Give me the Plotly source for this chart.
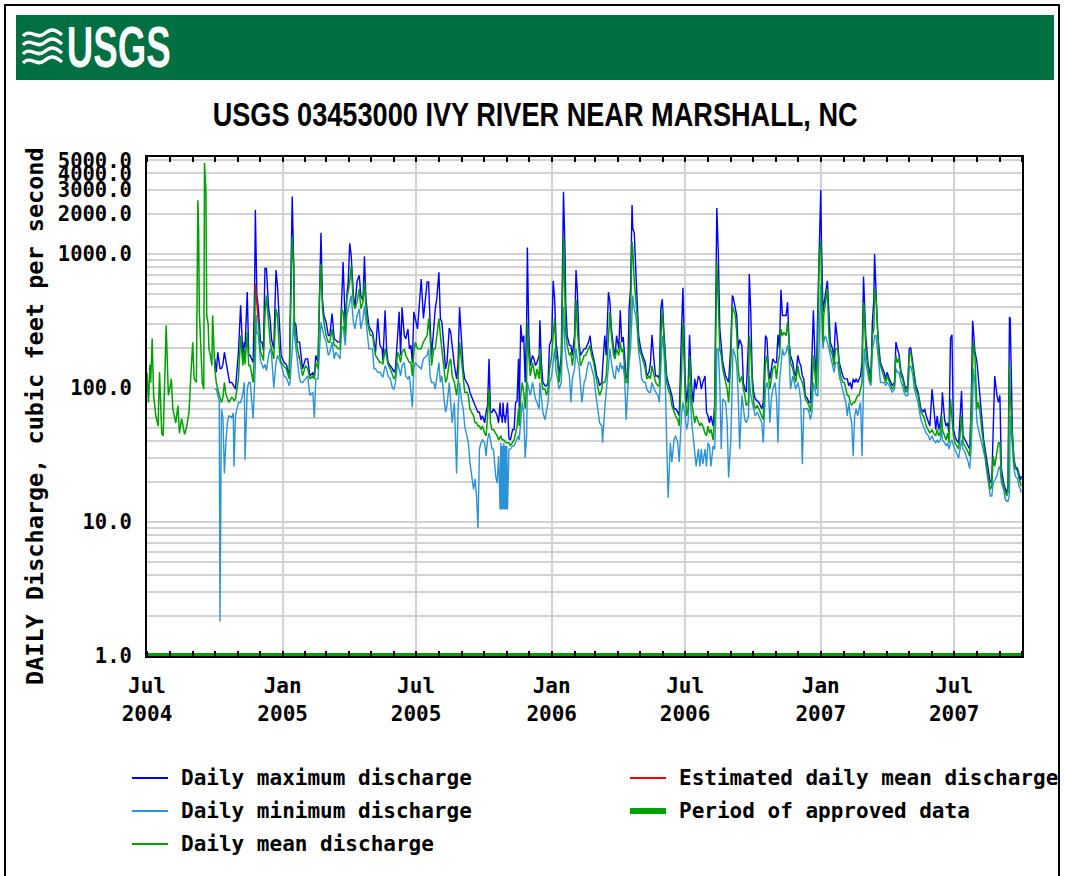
import plotly.graph_objects as go

# ---------------- data (cubic feet per second) ----------------
# Jul-Sep 2004: only daily mean is shown
EARLY_DATES = [
    "2004-07-01", "2004-07-03", "2004-07-05", "2004-07-06", "2004-07-08", "2004-07-10", "2004-07-13", "2004-07-15", "2004-07-16", "2004-07-18",
    "2004-07-20", "2004-07-21", "2004-07-23", "2004-07-27", "2004-07-28", "2004-07-30", "2004-08-01", "2004-08-03", "2004-08-05", "2004-08-09",
    "2004-08-12", "2004-08-14", "2004-08-17", "2004-08-21", "2004-08-24", "2004-08-27", "2004-08-29", "2004-09-01", "2004-09-03", "2004-09-06",
    "2004-09-08", "2004-09-09", "2004-09-10", "2004-09-12", "2004-09-14", "2004-09-16", "2004-09-17", "2004-09-19", "2004-09-20", "2004-09-22",
    "2004-09-23", "2004-09-25", "2004-09-27", "2004-09-28", "2004-09-30",
]
EARLY_MEAN = [
    130, 78, 150, 110, 234, 88, 62, 55, 52, 131,
    60, 46, 44, 294, 196, 88, 100, 117, 70, 55,
    74, 46, 59, 45, 52, 66, 110, 219, 117, 110,
    2520, 1550, 370, 175, 110, 98, 4770, 2930, 348, 300,
    196, 175, 147, 348, 150,
]

DATES = [
    # Oct 2004 - Jan 2005
    "2004-10-01", "2004-10-03", "2004-10-05", "2004-10-07", "2004-10-08", "2004-10-10", "2004-10-12", "2004-10-14", "2004-10-16", "2004-10-18",
    "2004-10-20", "2004-10-21", "2004-10-24", "2004-10-26", "2004-10-27", "2004-10-29", "2004-11-02", "2004-11-05", "2004-11-08", "2004-11-10",
    "2004-11-11", "2004-11-14", "2004-11-16", "2004-11-18", "2004-11-22", "2004-11-24", "2004-11-25", "2004-11-26", "2004-11-27", "2004-11-29",
    "2004-12-01", "2004-12-02", "2004-12-04", "2004-12-06", "2004-12-08", "2004-12-10", "2004-12-13", "2004-12-15", "2004-12-17", "2004-12-20",
    "2004-12-23", "2004-12-25", "2004-12-28", "2004-12-30", "2005-01-03", "2005-01-06",
    # Jan - Jul 2005
    "2005-01-10", "2005-01-11", "2005-01-14", "2005-01-16", "2005-01-17", "2005-01-19", "2005-01-21", "2005-01-24", "2005-01-26", "2005-01-28",
    "2005-02-01", "2005-02-04", "2005-02-07", "2005-02-11", "2005-02-13", "2005-02-15", "2005-02-18", "2005-02-20", "2005-02-22", "2005-02-24",
    "2005-02-26", "2005-03-01", "2005-03-04", "2005-03-06", "2005-03-09", "2005-03-12", "2005-03-14", "2005-03-17", "2005-03-20", "2005-03-22",
    "2005-03-24", "2005-03-27", "2005-03-29", "2005-03-31", "2005-04-02", "2005-04-04", "2005-04-07", "2005-04-09", "2005-04-12", "2005-04-15",
    "2005-04-17", "2005-04-20", "2005-04-22", "2005-04-24", "2005-04-26", "2005-04-28", "2005-04-30", "2005-05-03", "2005-05-05", "2005-05-07",
    "2005-05-10", "2005-05-13", "2005-05-16", "2005-05-17", "2005-05-20", "2005-05-22", "2005-05-24", "2005-05-27", "2005-05-30", "2005-06-01",
    "2005-06-03", "2005-06-06", "2005-06-08", "2005-06-10", "2005-06-12", "2005-06-15", "2005-06-17", "2005-06-20", "2005-06-22", "2005-06-24",
    "2005-06-26", "2005-06-28", "2005-06-30", "2005-07-03", "2005-07-08", "2005-07-11",
    # Jul 2005 - Feb 2006
    "2005-07-16", "2005-07-18", "2005-07-20", "2005-07-22", "2005-07-25", "2005-07-27", "2005-07-29", "2005-08-01", "2005-08-03", "2005-08-05",
    "2005-08-08", "2005-08-10", "2005-08-12", "2005-08-15", "2005-08-17", "2005-08-19", "2005-08-22", "2005-08-25", "2005-08-27", "2005-08-29",
    "2005-09-01", "2005-09-03", "2005-09-05", "2005-09-08", "2005-09-10", "2005-09-12", "2005-09-15", "2005-09-17", "2005-09-19", "2005-09-21",
    "2005-09-23", "2005-09-25", "2005-09-27", "2005-09-29", "2005-10-02", "2005-10-04", "2005-10-06", "2005-10-08", "2005-10-10", "2005-10-12",
    "2005-10-14", "2005-10-17", "2005-10-19", "2005-10-21", "2005-10-23", "2005-10-24", "2005-10-25", "2005-10-26", "2005-10-27", "2005-10-28",
    "2005-10-29", "2005-10-30", "2005-10-31", "2005-11-01", "2005-11-02", "2005-11-04", "2005-11-06", "2005-11-09", "2005-11-11", "2005-11-13",
    "2005-11-15", "2005-11-17", "2005-11-18", "2005-11-20", "2005-11-22", "2005-11-24", "2005-11-26", "2005-11-28", "2005-11-29", "2005-12-01",
    "2005-12-03", "2005-12-06", "2005-12-08", "2005-12-10", "2005-12-12", "2005-12-15", "2005-12-16", "2005-12-18", "2005-12-20", "2005-12-23",
    "2005-12-25", "2005-12-27", "2005-12-29", "2006-01-01", "2006-01-03", "2006-01-05", "2006-01-07", "2006-01-09", "2006-01-11", "2006-01-14",
    "2006-01-15", "2006-01-17", "2006-01-19", "2006-01-20", "2006-01-22", "2006-01-25", "2006-01-27", "2006-01-29", "2006-02-01", "2006-02-03",
    # Feb - Aug 2006
    "2006-02-05", "2006-02-07", "2006-02-09", "2006-02-11", "2006-02-14", "2006-02-16", "2006-02-18", "2006-02-20", "2006-02-22", "2006-02-24",
    "2006-02-27", "2006-03-01", "2006-03-03", "2006-03-05", "2006-03-07", "2006-03-10", "2006-03-11", "2006-03-14", "2006-03-16", "2006-03-19",
    "2006-03-21", "2006-03-23", "2006-03-26", "2006-03-28", "2006-03-30", "2006-04-02", "2006-04-04", "2006-04-06", "2006-04-08", "2006-04-10",
    "2006-04-12", "2006-04-14", "2006-04-16", "2006-04-18", "2006-04-20", "2006-04-21", "2006-04-23", "2006-04-25", "2006-04-27", "2006-04-29",
    "2006-05-01", "2006-05-03", "2006-05-06", "2006-05-08", "2006-05-10", "2006-05-13", "2006-05-15", "2006-05-17", "2006-05-20", "2006-05-22",
    "2006-05-25", "2006-05-27", "2006-05-29", "2006-05-31", "2006-06-02", "2006-06-04", "2006-06-06", "2006-06-08", "2006-06-11", "2006-06-13",
    "2006-06-16", "2006-06-18", "2006-06-21", "2006-06-23", "2006-06-26", "2006-06-28", "2006-07-01", "2006-07-03", "2006-07-05", "2006-07-07",
    "2006-07-10", "2006-07-12", "2006-07-14", "2006-07-16", "2006-07-19", "2006-07-21", "2006-07-23", "2006-07-25", "2006-07-28", "2006-07-30",
    "2006-08-01", "2006-08-03", "2006-08-05", "2006-08-08", "2006-08-10", "2006-08-12", "2006-08-13", "2006-08-15", "2006-08-17", "2006-08-19",
    "2006-08-21",
    # Aug 2006 - Mar 2007
    "2006-08-25", "2006-08-27", "2006-08-29", "2006-09-01", "2006-09-03", "2006-09-04", "2006-09-07", "2006-09-09", "2006-09-11", "2006-09-13",
    "2006-09-16", "2006-09-18", "2006-09-20", "2006-09-22", "2006-09-25", "2006-09-26", "2006-09-28", "2006-09-30", "2006-10-02", "2006-10-04",
    "2006-10-07", "2006-10-09", "2006-10-11", "2006-10-13", "2006-10-15", "2006-10-18", "2006-10-20", "2006-10-22", "2006-10-24", "2006-10-26",
    "2006-10-28", "2006-10-31", "2006-11-02", "2006-11-04", "2006-11-06", "2006-11-08", "2006-11-10", "2006-11-12", "2006-11-15", "2006-11-17",
    "2006-11-19", "2006-11-21", "2006-11-24", "2006-11-26", "2006-11-28", "2006-12-01", "2006-12-03", "2006-12-05", "2006-12-07", "2006-12-09",
    "2006-12-11", "2006-12-14", "2006-12-16", "2006-12-18", "2006-12-20", "2006-12-22", "2006-12-24", "2006-12-26", "2006-12-28", "2006-12-30",
    "2007-01-01", "2007-01-02", "2007-01-04", "2007-01-05", "2007-01-07", "2007-01-10", "2007-01-12", "2007-01-14", "2007-01-17", "2007-01-19",
    "2007-01-21", "2007-01-24", "2007-01-26", "2007-01-28", "2007-01-31", "2007-02-02", "2007-02-04", "2007-02-06", "2007-02-08", "2007-02-10",
    "2007-02-12", "2007-02-14", "2007-02-16", "2007-02-18", "2007-02-20", "2007-02-22", "2007-02-24", "2007-02-26", "2007-02-28", "2007-03-01",
    "2007-03-03",
    # Mar - Sep 2007
    "2007-03-06", "2007-03-08", "2007-03-10", "2007-03-12", "2007-03-14", "2007-03-15", "2007-03-17", "2007-03-19", "2007-03-21", "2007-03-23",
    "2007-03-26", "2007-03-28", "2007-03-30", "2007-04-01", "2007-04-04", "2007-04-06", "2007-04-08", "2007-04-11", "2007-04-13", "2007-04-15",
    "2007-04-17", "2007-04-20", "2007-04-22", "2007-04-24", "2007-04-26", "2007-04-29", "2007-05-01", "2007-05-03", "2007-05-06", "2007-05-08",
    "2007-05-10", "2007-05-13", "2007-05-15", "2007-05-17", "2007-05-20", "2007-05-22", "2007-05-24", "2007-05-27", "2007-05-29", "2007-06-01",
    "2007-06-03", "2007-06-06", "2007-06-08", "2007-06-10", "2007-06-12", "2007-06-14", "2007-06-15", "2007-06-18", "2007-06-20", "2007-06-22",
    "2007-06-24", "2007-06-26", "2007-06-28", "2007-06-30", "2007-07-02", "2007-07-04", "2007-07-07", "2007-07-09", "2007-07-11", "2007-07-13",
    "2007-07-16", "2007-07-18", "2007-07-20", "2007-07-22", "2007-07-24", "2007-07-26", "2007-07-27", "2007-07-29", "2007-08-01", "2007-08-03",
    "2007-08-05", "2007-08-08", "2007-08-10", "2007-08-12", "2007-08-14", "2007-08-16", "2007-08-19", "2007-08-21", "2007-08-23", "2007-08-25",
    "2007-08-28", "2007-08-30", "2007-09-01", "2007-09-03", "2007-09-06", "2007-09-08", "2007-09-10", "2007-09-12", "2007-09-14", "2007-09-15",
    "2007-09-18", "2007-09-20", "2007-09-22", "2007-09-25", "2007-09-27", "2007-09-29", "2007-09-30",
]

MEAN = [
    139, 110, 95, 88, 85, 78, 85, 110, 90, 83,
    78, 80, 85, 83, 80, 83, 117, 246, 147, 196,
    150, 260, 147, 147, 110, 200, 600, None, None, 310,
    220, 185, 175, 160, 348, 490, 310, 220, 196, 165,
    390, 348, 175, 155, 145, 139,
    117, 196, 1350, 820, 295, 246, 196, 165, 139, 123,
    147, 139, 117, 123, 117, 155, 139, 490, 850, 390,
    310, 246, 220, 220, 276, 208, 208, 196, 196, 390,
    370, 246, 460, 550, 620, 820, 437, 390, 437, 550,
    390, 437, 620, 410, 310, 276, 246, 246, 208, 175,
    165, 155, 155, 150, 196, 175, 150, 139, 123, 117,
    123, 185, 175, 155, 185, 196, 175, 165, 155, 155,
    123, 185, 220, 196, 196, 220,
    246, 330, 246, 147, 196, 196, 246, 330, 246, 196,
    139, 110, 117, 155, 165, 123, 110, 88, 110, 220,
    155, 110, 93, 93, 88, 70, 66, 62, 55, 55,
    52, 52, 49, 52, 46, 44, 62, 98, 55, 49,
    49, 46, 44, 41, 44, 44, 42, 41, 41, 41,
    40, 39, 39, 39, 39, 39, 37, 39, 41, 46,
    52, 70, 52, 88, 110, 93, 70, 110, 310, 175,
    123, 155, 131, 117, 139, 117, 196, 117, 98, 98,
    88, 98, 139, 175, 246, 330, 175, 155, 110, 155,
    276, 1350, 460, 260, 208, 175, 185, 147, 196, 460,
    260, 196, 147, 155, 175, 175, 185, 196, 208, 175,
    155, 131, 110, 98, 88, 98, 110, 110, 123, 246,
    370, 246, 175, 165, 196, 175, 220, 185, 196, 139,
    110, 110, 196, 348, 1240, 1100, 620, 490, 348, 208,
    185, 175, 155, 139, 117, 123, 117, 147, 123, 110,
    104, 104, 233, 390, 246, 155, 110, 98, 88, 74,
    66, 62, 58, 52, 123, 310, 93, 62, 70, 175,
    78, 62, 55, 62, 55, 52, 55, 52, 46, 44,
    52, 46, 49, 41, 62, 460, 870, 437, 196, 175,
    139,
    110, 98, 78, 155, 410, 390, 348, 260, 139, 110,
    123, 98, 88, 74, 78, 246, 196, 110, 78, 70,
    74, 70, 66, 62, 58, 155, 175, 123, 98, 117,
    139, 147, 117, 155, 175, 276, 246, 260, 246, 310,
    196, 155, 139, 123, 110, 147, 123, 117, 110, 98,
    83, 78, 74, 66, 93, 175, 123, 98, 246, 980,
    1240, 550, 220, 348, 410, 550, 246, 196, 175, 147,
    196, 196, 147, 123, 110, 110, 98, 88, 88, 78,
    74, 78, 78, 83, 88, 88, 98, 110, 437, 390,
    196,
    139, 117, 110, 246, 276, 550, 460, 260, 175, 147,
    131, 123, 110, 123, 110, 104, 98, 104, 175, 155,
    165, 123, 117, 104, 93, 98, 175, 185, 139, 110,
    98, 88, 74, 66, 62, 58, 52, 49, 46, 49,
    46, 44, 49, 44, 46, 62, 49, 44, 41, 46,
    39, 83, 62, 44, 39, 37, 35, 44, 62, 39,
    37, 35, 33, 31, 66, 139, 220, 175, 70, 78,
    66, 46, 37, 31, 26, 22, 17.5, 18.5, 31, 26,
    35, 39, 39, 22, 18.5, 16.5, 15.6, 16.5, 155, 88,
    41, 28, 25, 24, 21, 19.6, 18.5,
]

MAX = [
    165, 131, 185, 150, 140, 140, 150, 185, 160, 131,
    120, 110, 110, 105, 100, 98, 185, 415, 175, 220,
    200, 520, 175, 175, 155, 565, 2130, 800, 500, 400,
    260, 220, 220, 190, 780, 780, 390, 330, 230, 196,
    760, 580, 280, 175, 155, 150,
    123, 295, 2690, 850, 310, 295, 220, 220, 175, 139,
    165, 165, 123, 130, 123, 175, 155, 620, 1440, 460,
    348, 310, 246, 246, 360, 233, 226, 220, 220, 410,
    870, 290, 490, 620, 1200, 980, 490, 400, 630, 695,
    490, 450, 960, 460, 348, 290, 276, 260, 220, 185,
    330, 208, 196, 160, 380, 196, 155, 147, 139, 131,
    139, 246, 370, 175, 400, 246, 233, 276, 196, 208,
    155, 370, 330, 276, 650, 330,
    620, 620, 310, 175, 276, 390, 460, 730, 330, 310,
    196, 139, 155, 280, 260, 196, 147, 117, 155, 400,
    196, 139, 117, 110, 104, 93, 83, 78, 74, 70,
    66, 66, 58, 62, 55, 66, 74, 165, 66, 66,
    70, 66, 62, 55, 78, 62, 62, 55, 78, 62,
    62, 55, 62, 70, 78, 42, 41, 49, 49, 78,
    80, 165, 70, 295, 220, 246, 110, 310, 1120, 246,
    147, 175, 165, 147, 155, 175, 320, 155, 110, 104,
    104, 110, 208, 233, 630, 460, 220, 175, 123, 175,
    520, 2920, 1100, 437, 246, 208, 208, 175, 246, 760,
    500, 220, 175, 185, 196, 196, 208, 220, 246, 196,
    165, 147, 123, 117, 104, 110, 139, 246, 175, 520,
    437, 276, 196, 175, 246, 196, 380, 220, 240, 155,
    123, 117, 390, 550, 2320, 1550, 1440, 780, 390, 246,
    208, 185, 165, 155, 123, 131, 155, 250, 155, 123,
    123, 117, 390, 460, 276, 196, 123, 110, 98, 88,
    70, 70, 66, 62, 260, 560, 117, 78, 98, 250,
    98, 78, 117, 98, 123, 117, 98, 110, 123, 66,
    62, 55, 62, 52, 74, 1070, 2200, 1040, 276, 208,
    155,
    123, 117, 110, 208, 490, 480, 400, 348, 196, 230,
    208, 110, 98, 93, 230, 710, 380, 123, 93, 83,
    80, 78, 74, 70, 78, 246, 233, 139, 117, 139,
    165, 155, 155, 250, 196, 540, 348, 348, 348, 437,
    220, 175, 155, 131, 123, 175, 155, 147, 123, 117,
    88, 83, 78, 78, 165, 380, 175, 117, 400, 1100,
    3000, 1240, 370, 410, 490, 630, 370, 220, 196, 165,
    310, 220, 155, 139, 123, 117, 117, 117, 104, 110,
    98, 117, 110, 117, 110, 117, 123, 155, 680, 490,
    246,
    155, 131, 117, 310, 460, 1000, 490, 276, 196, 155,
    139, 131, 117, 131, 117, 110, 104, 110, 220, 196,
    180, 131, 123, 110, 98, 104, 196, 200, 147, 117,
    104, 93, 78, 70, 66, 70, 62, 55, 52, 98,
    74, 49, 62, 49, 55, 66, 93, 58, 52, 55,
    46, 235, 250, 49, 44, 41, 39, 70, 95, 44,
    41, 39, 37, 35, 70, 318, 276, 190, 155, 117,
    78, 52, 41, 35, 30, 25, 19.6, 20.5, 55, 123,
    88, 78, 88, 25, 19.6, 17.5, 16.5, 18.5, 338, 330,
    46, 30, 26, 25, 22, 20.5, 22,
]

MIN = [
    98, 98, 88, 80, 1.8, 70, 60, 23, 39, 55,
    62, 62, 60, 65, 26, 62, 78, 78, 90, 110,
    29, 98, 110, 110, 59, 98, 150, 350, 260, 250,
    196, 160, 150, 140, 150, 135, 175, 196, 175, 100,
    155, 175, 160, 150, 123, 120,
    104, 110, 196, 348, 246, 196, 155, 117, 110, 110,
    117, 123, 88, 93, 60, 117, 117, 196, 310, 276,
    246, 220, 175, 185, 220, 165, 185, 175, 165, 276,
    290, 208, 348, 390, 437, 490, 310, 276, 348, 390,
    276, 330, 410, 310, 246, 196, 196, 196, 139, 139,
    131, 131, 123, 120, 147, 139, 123, 117, 100, 98,
    110, 155, 139, 123, 147, 155, 123, 117, 123, 98,
    72, 139, 155, 147, 139, 165,
    175, 196, 123, 110, 110, 98, 123, 155, 110, 123,
    83, 66, 74, 110, 78, 55, 78, 23, 70, 110,
    78, 70, 52, 44, 39, 28, 22, 17.5, 21, 15.6,
    9.0, 35, 39, 41, 39, 31, 41, 46, 41, 35,
    35, 22, 19.6, 31, 12.4, 39, 12.4, 37, 12.4, 39,
    12.4, 37, 12.4, 37, 12.4, 35, 35, 37, 37, 39,
    41, 44, 41, 62, 78, 66, 30, 44, 110, 98,
    88, 110, 93, 83, 78, 70, 110, 78, 66, 58,
    66, 78, 110, 123, 155, 196, 131, 117, 98, 110,
    175, 400, 196, 175, 147, 123, 78, 117, 139, 196,
    160, 147, 110, 78, 110, 117, 139, 155, 155, 139,
    123, 98, 78, 66, 55, 52, 39, 70, 98, 155,
    196, 155, 123, 117, 147, 131, 155, 139, 147, 117,
    58, 93, 155, 196, 390, 490, 390, 348, 276, 185,
    155, 117, 110, 110, 98, 93, 93, 110, 98, 93,
    88, 78, 155, 246, 196, 117, 39, 15.2, 39, 28,
    41, 44, 39, 28, 62, 78, 62, 49, 55, 110,
    55, 44, 35, 26, 35, 26, 35, 27, 35, 26,
    39, 37, 26, 37, 35, 70, 196, 196, 110, 35,
    83,
    78, 55, 21.5, 41, 123, 196, 175, 147, 88, 35,
    88, 70, 58, 55, 62, 123, 88, 78, 70, 62,
    66, 62, 58, 55, 39, 98, 110, 98, 55, 83,
    98, 110, 83, 39, 110, 155, 196, 175, 185, 208,
    175, 98, 123, 110, 98, 110, 98, 78, 27, 70,
    70, 70, 66, 58, 66, 110, 98, 88, 88, 300,
    600, 400, 196, 220, 246, 220, 196, 175, 155, 131,
    155, 155, 123, 110, 98, 88, 78, 62, 78, 62,
    55, 31, 62, 70, 62, 70, 78, 31, 196, 196,
    155,
    123, 110, 104, 196, 220, 246, 246, 196, 147, 110,
    110, 110, 104, 110, 104, 98, 93, 98, 139, 131,
    131, 110, 104, 93, 88, 88, 139, 147, 123, 98,
    88, 78, 66, 58, 52, 49, 46, 44, 41, 44,
    41, 39, 41, 39, 41, 49, 41, 39, 37, 39,
    35, 39, 41, 37, 35, 33, 30, 35, 41, 35,
    33, 30, 28, 25, 35, 70, 139, 110, 55, 49,
    44, 39, 35, 30, 24, 19.6, 15.6, 15.6, 19.6, 20.5,
    22, 25, 26, 19.6, 17.5, 15, 14.3, 14.3, 16, 62,
    35, 25, 22, 21, 18.5, 17.5, 16.5,
]

# Estimated daily mean discharge (red)
EST_DATES = ["2004-11-25", "2004-11-26", "2004-11-27", "2004-11-29", "2005-01-01", "2005-01-23", "2005-01-24"]
EST_MEAN = [600, 490, 400, 310, None, 172, 165]

# Period of approved data
APPROVED_DATES = ["2004-07-01", "2007-10-01"]
APPROVED_LEVEL = [1, 1]

X_TICKS = ["2004-07-01", "2005-01-01", "2005-07-01", "2006-01-01", "2006-07-01", "2007-01-01", "2007-07-01"]
X_TICK_TEXT = ["Jul<br>2004", "Jan<br>2005", "Jul<br>2005", "Jan<br>2006", "Jul<br>2006", "Jan<br>2007", "Jul<br>2007"]
Y_LABELS = {1: "1.0", 10: "10.0", 100: "100.0", 1000: "1000.0", 2000: "2000.0", 3000: "3000.0", 4000: "4000.0", 5000: "5000.0"}

TITLE = "USGS 03453000 IVY RIVER NEAR MARSHALL, NC"
LOGO = "USGS"

assert len(DATES) == len(MEAN) == len(MAX) == len(MIN), (len(DATES), len(MEAN), len(MAX), len(MIN))
assert len(EARLY_DATES) == len(EARLY_MEAN)

# ---------------- styling ----------------
C_MAX = "#0000FF"
C_MIN = "#2A93D8"
C_MEAN = "#00A000"
C_EST = "#FF0000"
C_APPROVED = "#00A000"
HEADER_GREEN = "#006F41"
MONO = "DejaVu Sans Mono"
SANS = "Liberation Sans, Arial, sans-serif"

W, H = 1065, 876
PL, PR, PT, PB = 147, 1022, 157, 656   # plot area in pixels


def fx(px):
    return (px - PL) / (PR - PL)


def fy(py):
    return (PB - py) / (PB - PT)


def P(px, py):
    return f"{fx(px):.5f},{fy(py):.5f}"


grid_vals = [m * 10 ** e for e in range(0, 4) for m in range(1, 10) if m * 10 ** e <= 5000]
grid_text = [Y_LABELS.get(v, "") for v in grid_vals]

fig = go.Figure()
fig.add_trace(go.Scatter(x=DATES, y=MAX, mode="lines", name="Daily maximum discharge",
                         line=dict(color=C_MAX, width=1.4), connectgaps=False))
fig.add_trace(go.Scatter(x=DATES, y=MIN, mode="lines", name="Daily minimum discharge",
                         line=dict(color=C_MIN, width=1.4), connectgaps=False))
fig.add_trace(go.Scatter(x=EARLY_DATES + DATES, y=EARLY_MEAN + MEAN, mode="lines", name="Daily mean discharge",
                         line=dict(color=C_MEAN, width=1.5), connectgaps=False))
fig.add_trace(go.Scatter(x=EST_DATES, y=EST_MEAN, mode="lines", name="Estimated daily mean discharge",
                         line=dict(color=C_EST, width=1.5), connectgaps=False))
fig.add_trace(go.Scatter(x=APPROVED_DATES, y=APPROVED_LEVEL, mode="lines", name="Period of approved data",
                         line=dict(color=C_APPROVED, width=6), cliponaxis=False))

tick_font = dict(family=MONO, size=20.5, color="black", weight="bold")

fig.update_layout(
    width=W, height=H,
    margin=dict(l=PL, r=W - PR, t=PT, b=H - PB, pad=0),
    paper_bgcolor="white", plot_bgcolor="white",
    showlegend=False,
    xaxis=dict(
        type="date", range=["2004-07-01", "2007-10-01"],
        tickmode="array", tickvals=X_TICKS, ticktext=X_TICK_TEXT,
        tickfont=dict(family=MONO, size=21, color="black", weight="bold"),
        ticks="", ticklabelstandoff=10,
        showgrid=True, gridcolor="#d2d2d2", gridwidth=2,
        showline=True, linecolor="black", linewidth=2, mirror="ticks",
        minor=dict(dtick="M1", tick0="2004-07-01", ticks="inside", ticklen=5,
                   tickwidth=1.5, tickcolor="black", showgrid=False),
        zeroline=False,
    ),
    yaxis=dict(
        type="log", range=[0, 3.724],
        tickmode="array", tickvals=grid_vals, ticktext=grid_text,
        tickfont=tick_font, ticks="", ticklabelstandoff=9,
        showgrid=True, gridcolor="#d2d2d2", gridwidth=2,
        showline=True, linecolor="black", linewidth=2, mirror=True,
        zeroline=False,
    ),
)

shapes = []
# outer frame
shapes.append(dict(type="rect", xref="paper", yref="paper",
                   x0=fx(5), x1=fx(1059), y0=fy(890), y1=fy(5),
                   line=dict(color="black", width=2), fillcolor="rgba(0,0,0,0)", layer="below"))
# header band
shapes.append(dict(type="rect", xref="paper", yref="paper",
                   x0=fx(16), x1=fx(1054), y0=fy(80), y1=fy(15),
                   line=dict(width=0), fillcolor=HEADER_GREEN, layer="below"))
# USGS wave mark
for i in range(4):
    y0 = 31 + 9 * i
    path = (f"M {P(23, y0 + 5)} C {P(30, y0 - 3)} {P(37, y0 + 9)} {P(44, y0 + 3)} "
            f"S {P(55, y0 - 2)} {P(62, y0 + 4)}")
    shapes.append(dict(type="path", xref="paper", yref="paper", path=path,
                       line=dict(color="white", width=3.4)))

# legend marks
legend_rows = [
    (132, 168, 778, C_MAX, 2, "Daily maximum discharge"),
    (132, 168, 811, C_MIN, 2, "Daily minimum discharge"),
    (132, 168, 844, C_MEAN, 2, "Daily mean discharge"),
    (630, 666, 778, C_EST, 2, "Estimated daily mean discharge"),
    (630, 666, 811, C_APPROVED, 6, "Period of approved data"),
]
annotations = []
for x0, x1, yy, col, wdt, label in legend_rows:
    shapes.append(dict(type="line", xref="paper", yref="paper",
                       x0=fx(x0), x1=fx(x1), y0=fy(yy), y1=fy(yy),
                       line=dict(color=col, width=wdt)))
    annotations.append(dict(xref="paper", yref="paper", x=fx(x1 + 11), y=fy(yy),
                            xanchor="left", yanchor="middle", showarrow=False,
                            text=label, font=dict(family=MONO, size=21, color="black", weight="bold")))

# title
annotations.append(dict(xref="paper", yref="paper", x=fx(535), y=fy(114),
                        xanchor="center", yanchor="middle", showarrow=False,
                        text=TITLE,
                        font=dict(family=SANS, size=33, color="black", weight="bold")))
# logo text (centred so condensing keeps it in place)
annotations.append(dict(xref="paper", yref="paper", x=fx(119), y=fy(47),
                        xanchor="center", yanchor="middle", showarrow=False,
                        text=LOGO,
                        font=dict(family=SANS, size=57, color="white", weight="bold")))
# y axis title
annotations.append(dict(xref="paper", yref="paper", x=fx(35), y=fy(416),
                        xanchor="center", yanchor="middle", showarrow=False, textangle=-90,
                        text="DAILY Discharge, cubic feet per second",
                        font=dict(family=MONO, size=23.5, color="black", weight="bold")))

fig.update_layout(shapes=shapes, annotations=annotations)

# the reference uses condensed type for the title and logo; condense the real text to the same width
post = """
document.body.style.margin='0';
document.body.style.overflow='hidden';
(function(){
  var widths = {"%s": 645, "%s": 104};
  document.querySelectorAll('text.annotation-text').forEach(function(t){
    var w = widths[t.textContent];
    if (w) { t.setAttribute('textLength', w); t.setAttribute('lengthAdjust', 'spacingAndGlyphs'); }
  });
})();
""" % (TITLE, LOGO)

fig.write_html("out.html", config={"displayModeBar": False}, post_script=post)
